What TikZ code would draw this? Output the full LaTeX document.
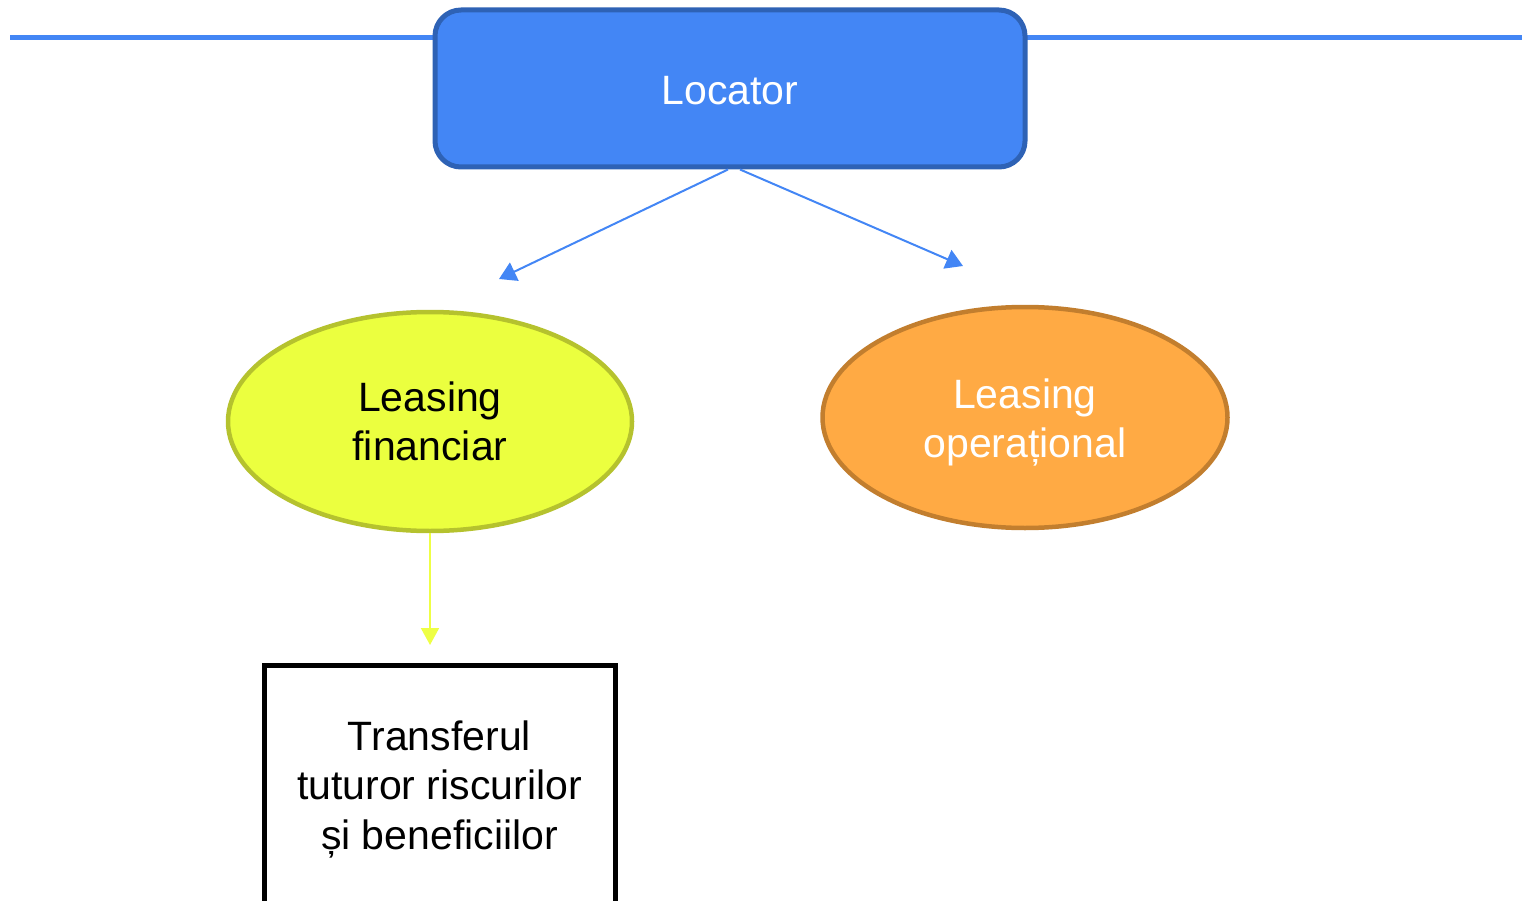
\documentclass[tikz,border=0pt]{standalone}
\usepackage{fontspec}
\setmainfont{Liberation Sans}
\usetikzlibrary{arrows.meta,shapes.geometric}
\definecolor{locfill}{HTML}{4386F5}
\definecolor{locdraw}{HTML}{2E62B5}
\definecolor{yelfill}{HTML}{EBFF3F}
\definecolor{yeldraw}{HTML}{B5C22E}
\definecolor{orfill}{HTML}{FFAA44}
\definecolor{ordraw}{HTML}{C27E2E}
\definecolor{yelarrow}{HTML}{EEFF44}
\tikzset{
  txt/.style={font=\fontsize{41}{49.5}\selectfont, align=center},
  ell/.style={ellipse, line width=4.5pt, minimum width=404pt, minimum height=219pt, inner sep=0pt, txt},
  conn/.style={draw=locfill, line width=2pt, -{Triangle[length=17pt,width=20pt]}},
}
\begin{document}
\begin{tikzpicture}[x=1pt,y=-1pt]
\useasboundingbox (0,0) rectangle (1522,901);
\draw[locfill, line width=5pt] (10,38) -- (1522,38);
\node[txt, text=white, fill=locfill, draw=locdraw, line width=5pt, rounded corners=26pt,
      minimum width=590pt, minimum height=157pt, inner sep=0pt] (loc) at (730,88.5) {};
\node[txt, text=white] (loct) at (730,90.5) {Locator};
\node[ell, fill=yelfill, draw=yeldraw] (fin) at (430,421.5) {Leasing\\financiar};
\node[ell, fill=orfill, draw=ordraw, minimum width=405pt, minimum height=221pt] (op) at (1025,417.5) {};
\node[txt, text=white] (opt) at (1025,422.5) {Leasing\\operațional};
\node[draw=black, line width=5pt, minimum width=351pt, minimum height=244pt, inner sep=0pt] (tr) at (439.5,787) {};
\node[txt] (trt) at (439.5,789) {Transferul\\tuturor riscurilor\\și beneficiilor};
\coordinate (a1) at (499,279);
\coordinate (a2) at (963,266);
\coordinate (s1) at ([xshift=-2pt]loc.south);
\coordinate (s2) at ([xshift=10pt]loc.south);
\draw[conn] (s1) -- (a1);
\draw[conn] (s2) -- (a2);
\coordinate (a3) at (430,645);
\draw[draw=yelarrow, line width=2pt, -{Triangle[length=17pt,width=18pt]}] (fin.south) -- (a3);
\end{tikzpicture}
\end{document}
